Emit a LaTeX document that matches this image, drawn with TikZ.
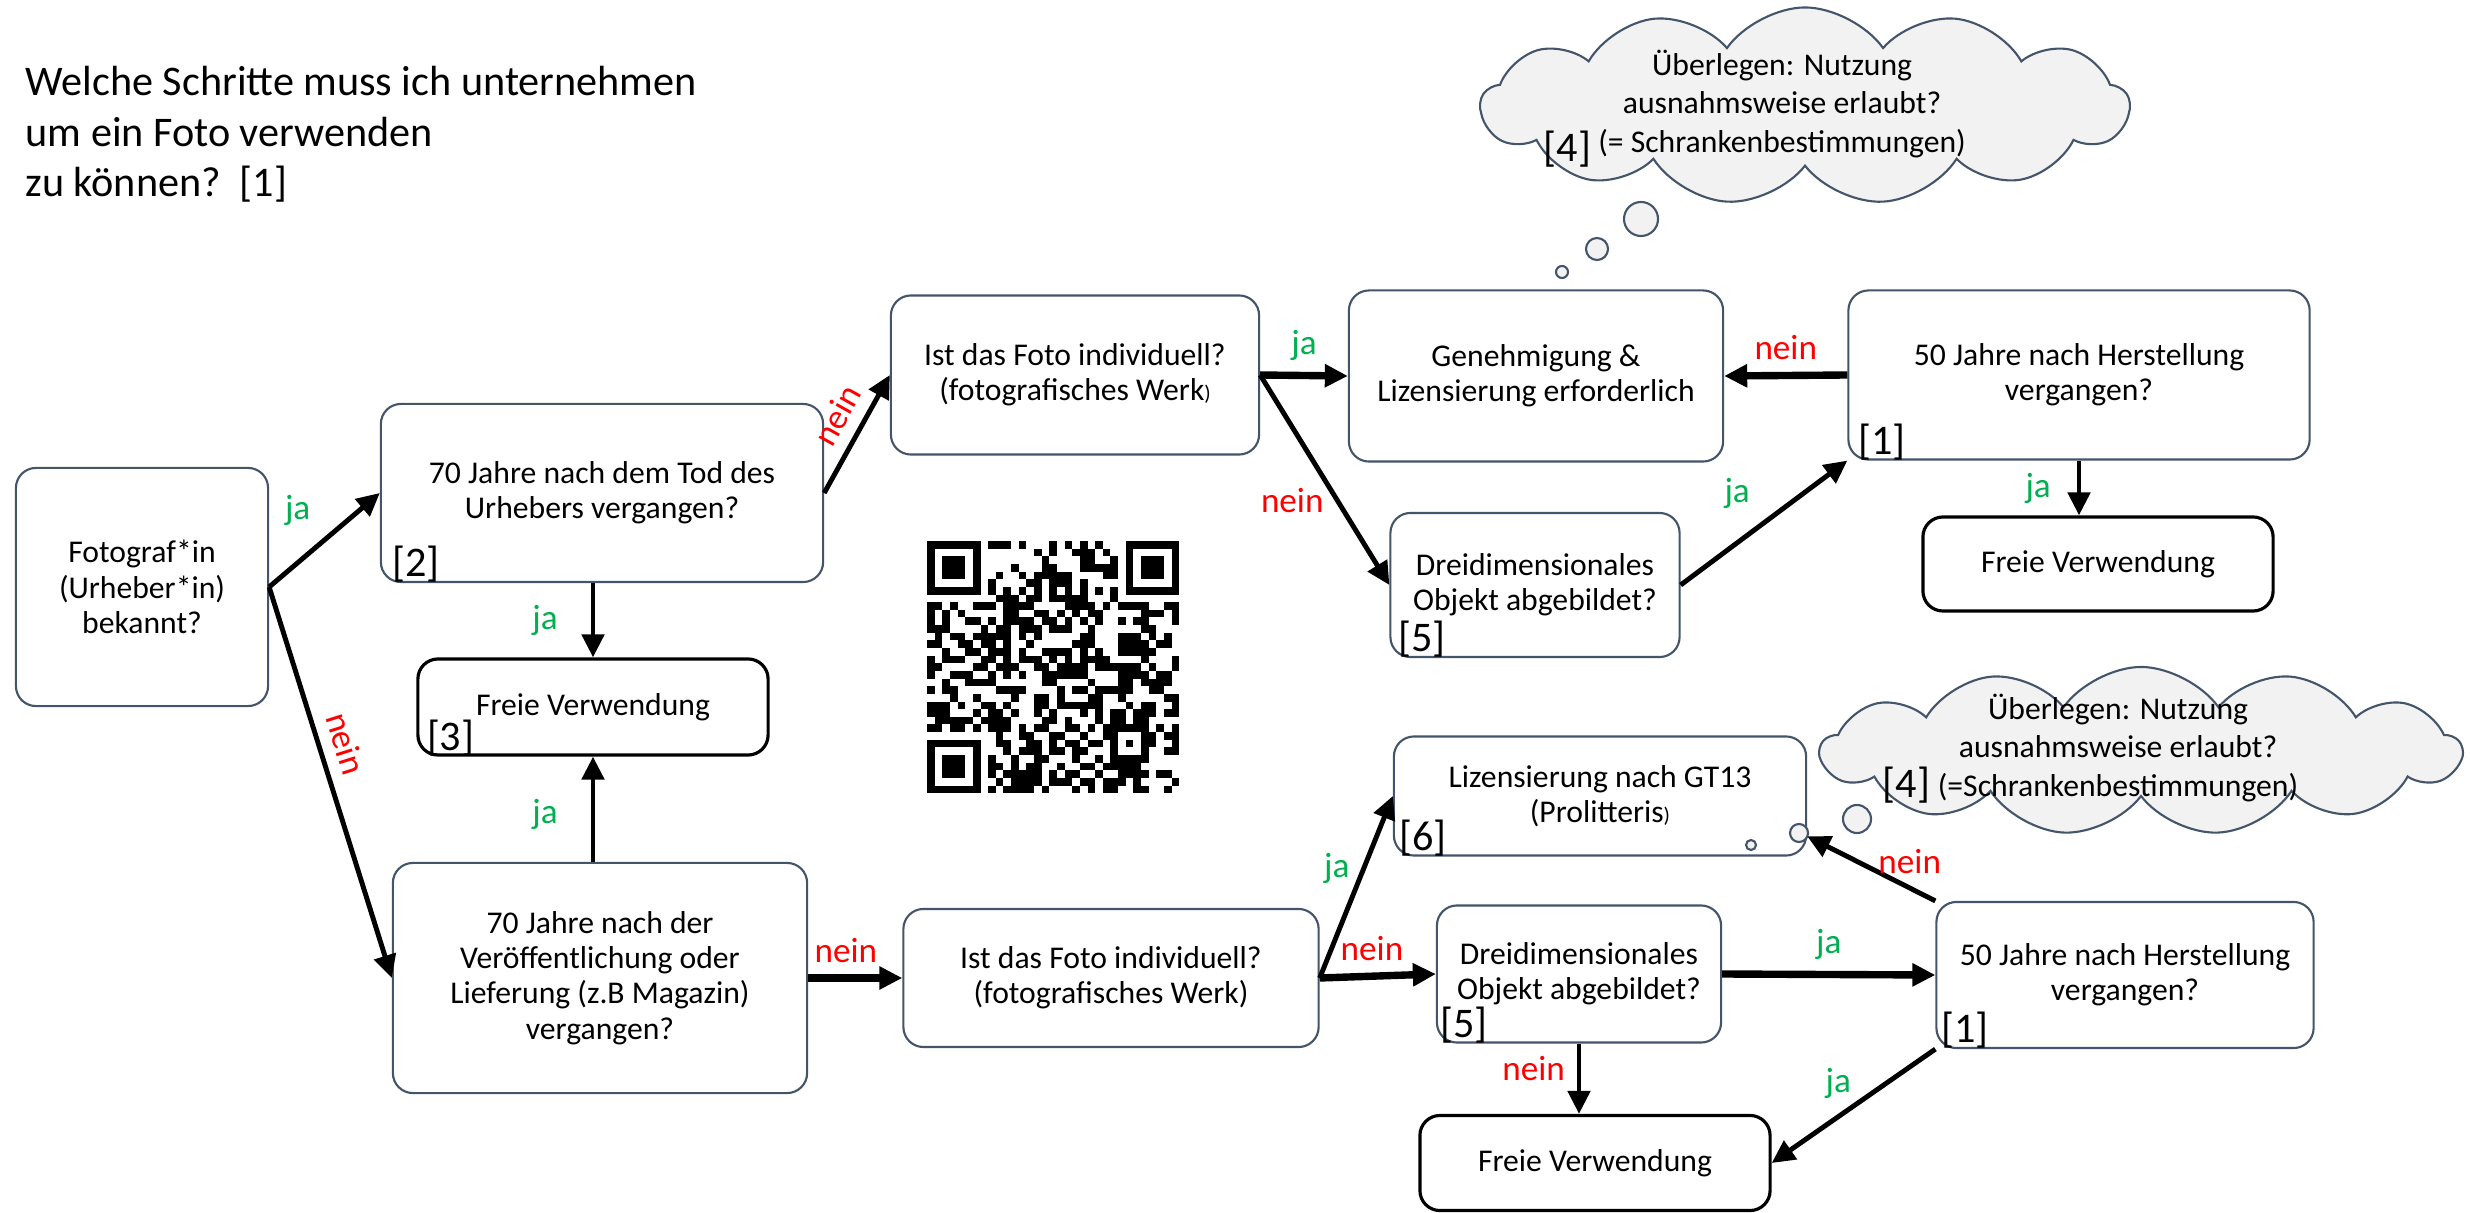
\documentclass[tikz,border=0pt]{standalone}
\usepackage{fontspec}
\setmainfont{Carlito}
\usetikzlibrary{arrows.meta, positioning, shapes.symbols}
\definecolor{boxline}{HTML}{44546A}
\definecolor{jagruen}{HTML}{00B050}
\definecolor{neinrot}{HTML}{FF0000}
\definecolor{wolkegrau}{HTML}{F2F2F2}

\begin{document}
\begin{tikzpicture}[
	x=0.01cm, y=-0.01cm,
	->,
	>={Triangle[length=0.23cm, width=0.22cm]},
	box/.style={draw=boxline, line width=0.6pt, fill=white, rounded corners=0.2cm,
		align=center, inner sep=2pt, font=\fontsize{9}{10}\selectfont},
	frei/.style={box, draw=black, line width=0.9pt},
	pfeil/.style={line width=1.4pt},
	dickpfeil/.style={line width=2.1pt},
	janode/.style={text=jagruen, font=\fontsize{10}{10}\selectfont},
	neinnode/.style={text=neinrot, font=\fontsize{10}{10}\selectfont},
	refnr/.style={font=\fontsize{12}{12}\selectfont, inner sep=0pt, anchor=south west},
	wolke/.style={cloud, cloud puffs=13, cloud puff arc=110, cloud ignores aspect,
		draw=boxline, fill=wolkegrau, line width=0.6pt, inner sep=0pt},
	blase/.style={circle, draw=boxline, fill=wolkegrau, line width=0.6pt, inner sep=0pt},
	wolkentext/.style={align=center, inner sep=0pt, font=\fontsize{9}{11}\selectfont},
	titel/.style={align=left, inner sep=0pt, font=\fontsize{12}{14.3}\selectfont}
]

\useasboundingbox (0,0) rectangle (2470,1213);

% Frage
\node [titel, anchor=north west] (frage) at (25,66)
	{Welche Schritte muss ich unternehmen\\um ein Foto verwenden\\zu können?\ \ [1]};

% Kaesten
\node [box, minimum width=2.52cm, minimum height=2.38cm] (foto)      at (142,587)    {Fotograf*in\\(Urheber*in)\\bekannt?};
\node [box, minimum width=4.42cm, minimum height=1.78cm] (tod)       at (602,493)    {70 Jahre nach dem Tod des\\Urhebers vergangen?};
\node [frei, minimum width=3.50cm, minimum height=0.96cm] (freiA)    at (593,707)    {Freie Verwendung};
\node [box, minimum width=4.14cm, minimum height=2.30cm] (publ)      at (600,978)    {70 Jahre nach der\\Veröffentlichung oder\\Lieferung (z.B Magazin)\\vergangen?};
\node [box, minimum width=4.15cm, minimum height=1.38cm] (indivB)    at (1111,978)   {Ist das Foto individuell?\\(fotografisches Werk)};
\node [box, minimum width=3.68cm, minimum height=1.59cm] (indivA)    at (1075,375)   {Ist das Foto individuell?\\(fotografisches Werk{\fontsize{6}{6}\selectfont)}};
\node [box, minimum width=3.74cm, minimum height=1.71cm] (geneh)     at (1536,376)   {Genehmigung \&\\Lizensierung erforderlich};
\node [box, minimum width=4.61cm, minimum height=1.69cm] (fuenfzigA) at (2079,375)   {50 Jahre nach Herstellung\\vergangen?};
\node [frei, minimum width=3.50cm, minimum height=0.94cm] (freiB)    at (2098,564)   {Freie Verwendung};
\node [box, minimum width=2.89cm, minimum height=1.44cm] (dreiA)     at (1535,585)   {Dreidimensionales\\Objekt abgebildet?};
\node [box, minimum width=4.12cm, minimum height=1.19cm] (lizenz)    at (1600,796)   {Lizensierung nach GT13\\(Prolitteris{\fontsize{6}{6}\selectfont)}};
\node [box, minimum width=2.84cm, minimum height=1.37cm] (dreiB)     at (1579,974)   {Dreidimensionales\\Objekt abgebildet?};
\node [box, minimum width=3.77cm, minimum height=1.46cm] (fuenfzigB) at (2125,975)   {50 Jahre nach Herstellung\\vergangen?};
\node [frei, minimum width=3.50cm, minimum height=0.95cm] (freiC)    at (1595,1163)  {Freie Verwendung};

% Quellen
\node [refnr] (q2)  at ([xshift=0.12cm]tod.south west)       {[2]};
\node [refnr] (q3)  at ([xshift=0.1cm]freiA.south west)      {[3]};
\node [refnr] (q1a) at ([xshift=0.1cm]fuenfzigA.south west)  {[1]};
\node [refnr] (q5a) at ([xshift=0.08cm]dreiA.south west)     {[5]};
\node [refnr] (q6)  at ([xshift=0.06cm]lizenz.south west)    {[6]};
\node [refnr] (q5b) at ([xshift=0.04cm]dreiB.south west)     {[5]};
\node [refnr] (q1b) at ([xshift=0.05cm]fuenfzigB.south west) {[1]};

% Wolken
\node [wolke, minimum width=6.48cm, minimum height=1.97cm] (wolkeA) at (1805,106) {};
\node [wolkentext] (wolkeAtext) at (1782,104) {Überlegen: Nutzung\\ausnahmsweise erlaubt?\\(= Schrankenbestimmungen)};
\node [refnr] (q4a) at (1543,168) {[4]};
\node [blase, minimum size=0.34cm] (blaseA1) at (1641,219) {};
\node [blase, minimum size=0.22cm] (blaseA2) at (1597,249) {};
\node [blase, minimum size=0.12cm] (blaseA3) at (1562,272) {};

\node [wolke, minimum width=6.40cm, minimum height=1.68cm] (wolkeB) at (2141,751) {};
\node [wolkentext] (wolkeBtext) at (2118,748) {Überlegen: Nutzung\\ausnahmsweise erlaubt?\\(=Schrankenbestimmungen)};
\node [refnr] (q4b) at (1882,804) {[4]};
\node [blase, minimum size=0.28cm] (blaseB1) at (1857,819) {};
\node [blase, minimum size=0.18cm] (blaseB2) at (1799,833) {};
\node [blase, minimum size=0.10cm] (blaseB3) at (1751,845) {};

% QR-Code
\begin{scope}[-, shift={(927,541)}, x=0.0764cm, y=-0.0764cm]
	\foreach \px/\py in {0/0, 26/0, 0/26} {
		\fill (\px,\py) rectangle ++(7,7);
		\fill [white] (\px+1,\py+1) rectangle ++(5,5);
		\fill (\px+2,\py+2) rectangle ++(3,3);
	}
	\fill (24,24) rectangle ++(5,5);
	\fill [white] (25,25) rectangle ++(3,3);
	\fill (26,26) rectangle ++(1,1);
	\pgfmathsetseed{2023}
	\foreach \qr in {0,...,32} {
		\foreach \qc in {0,...,32} {
			\pgfmathtruncatemacro\besetzt{(\qr<8 && \qc<8) || (\qr<8 && \qc>24) || (\qr>24 && \qc<8) || (\qr>23 && \qr<29 && \qc>23 && \qc<29)}
			\ifnum\besetzt=0
				\pgfmathtruncatemacro\modul{ifthenelse(\qr==6 || \qc==6, mod(\qr+\qc+1,2), random(0,1))}
				\ifnum\modul=1 \fill (\qc,\qr) rectangle ++(1,1); \fi
			\fi
		}
	}
\end{scope}

% Pfeile
\path (foto.east)   edge [pfeil] node [janode, pos=.5, above left]   (ja1)   {ja}   (tod.west)
                    edge [pfeil] node [neinnode, pos=.42, sloped, above] (nein1) {nein} (publ.west);
\path (tod.east)    edge [pfeil] node [neinnode, pos=.55, sloped, above] (nein2) {nein} (indivA.west);
\path (tod.south -| freiA.north) edge [pfeil] node [janode, left=6pt] (ja2) {ja} (freiA.north);
\path (freiA.south |- publ.north) edge [pfeil] node [janode, pos=.45, left=6pt] (ja3) {ja} (freiA.south);
\path (publ.east)   edge [dickpfeil] node [neinnode, pos=.4, above]  (nein3) {nein} (indivB.west);
\path (indivA.east) edge [dickpfeil] node [janode, above]            (ja4)   {ja}   (geneh.west)
                    edge [pfeil] node [neinnode, pos=.6, left]       (nein4) {nein} (dreiA.west);
\path (dreiA.east)  edge [pfeil] node [janode, pos=.5, above left]   (ja5)   {ja}   (fuenfzigA.south west);
\path (fuenfzigA.west)  edge [dickpfeil] node [neinnode, above]      (nein5) {nein} (geneh.east);
\path (fuenfzigA.south) edge [pfeil] node [janode, left=4pt]         (ja6)   {ja}   (fuenfzigA.south |- freiB.north);
\path (indivB.east) edge [pfeil] node [janode, pos=.6, left]         (ja7)   {ja}   (lizenz.west)
                    edge [dickpfeil] node [neinnode, pos=.45, above] (nein6) {nein} (dreiB.west);
\path (dreiB.east)  edge [dickpfeil] node [janode, above]            (ja8)   {ja}   (fuenfzigB.west);
\path (dreiB.south) edge [pfeil] node [neinnode, pos=.35, left]      (nein7) {nein} (dreiB.south |- freiC.north);
\path (fuenfzigB.north west) edge [pfeil] node [neinnode, pos=.2, above] (nein8) {nein} (lizenz.-11);
\path (fuenfzigB.south west) edge [pfeil] node [janode, pos=.3, left=6pt] (ja9)  {ja}   (freiC.east);

\end{tikzpicture}
\end{document}
